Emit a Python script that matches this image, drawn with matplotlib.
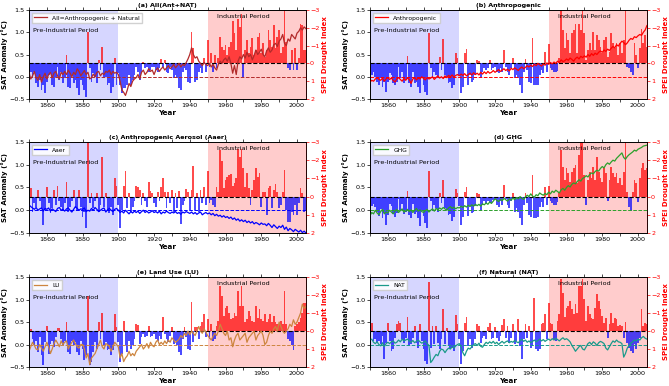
import numpy as np
import matplotlib
matplotlib.use('Agg')
import matplotlib.pyplot as plt
from matplotlib.ticker import MultipleLocator

years = np.arange(1850, 2006)

# (a) All (Ant+NAT)
spei_all = [
    1.27, 0.47, 0.75, 0.47, 1.12, 1.30, 0.93, 1.50, 1.20, 1.68,
    1.03, 0.65, 0.56, 1.20, 1.30, 0.75, 0.19, 0.93, 0.47, 1.12,
    0.84, -0.47, 1.30, 1.40, 0.65, 1.12, 0.93, 1.40, 1.77, 0.93,
    1.20, 1.50, 1.87, -1.77, 0.28, 1.03, 0.56, 0.75, 1.12, -0.20,
    0.37, -0.90, 0.84, 0.75, 1.20, 1.12, 1.68, 1.30, -0.28, 1.20,
    0.56, 1.20, 1.68, 1.40, 1.40, 1.20, 0.65, 1.20, 0.93, 0.65,
    0.19, 0.47, 0.93, 0.47, -0.10, 0.28, 0.19, 0.47, 0.37, 0.19,
    0.19, 0.37, 0.47, 0.28, -0.22, 0.19, -0.18, 0.47, 0.56, 0.19,
    0.37, 0.84, 0.65, 0.84, 1.40, 1.50, 0.47, 0.28, 0.37, 1.03,
    1.12, -1.77, -0.84, 1.03, 0.93, 0.47, 0.28, 0.56, -0.30, 0.47,
    -1.30, 0.19, -0.56, 0.47, -0.47, 0.28, -0.28, -1.50, -0.93, -0.75,
    -1.03, -0.47, -0.93, -1.21, -2.40, -1.68, -0.75, -2.50, -2.05, -2.80,
    0.75, -0.75, -1.30, -0.56, -0.93, -1.40, -0.47, -0.75, -1.50, -1.68,
    -0.56, -1.12, -0.37, -0.75, -1.87, -1.30, -0.93, -2.15, -0.84, -1.50,
    -1.87, -0.56, -0.93, -3.00, -1.21, 0.28, 0.37, -0.75, 0.37, -0.84,
    0.37, -0.28, -2.24, -2.15, -0.75, -0.75]
sat_all = [
    0.10, -0.05, 0.02, 0.12, -0.02, -0.08, 0.05, -0.12, 0.00, 0.08,
    -0.05, 0.05, 0.10, -0.02, 0.08, 0.12, 0.02, -0.05, 0.10, 0.05,
    0.12, 0.05, 0.15, 0.08, 0.00, 0.10, 0.05, 0.18, 0.12, 0.02,
    0.08, 0.14, 0.05, 0.10, -0.05, -0.02, 0.06, 0.00, 0.10, 0.12,
    0.02, 0.08, 0.05, 0.12, 0.10, 0.15, 0.05, 0.12, 0.08, 0.10,
    0.05, -0.10, -0.30, -0.35, -0.42, -0.30, -0.15, -0.22, -0.10, -0.05,
    -0.02, 0.05, -0.05, 0.10, 0.15, 0.05, 0.10, 0.18, 0.12, 0.15,
    0.05, 0.15, 0.20, 0.12, 0.18, 0.22, 0.15, 0.20, 0.25, 0.18,
    0.22, 0.28, 0.20, 0.25, 0.30, 0.22, 0.28, 0.25, 0.32, 0.40,
    0.50, 0.65, 0.50, 0.42, 0.45, 0.35, 0.30, 0.25, 0.32, 0.28,
    0.25, 0.30, 0.22, 0.28, 0.20, 0.15, 0.28, 0.35, 0.30, 0.38,
    0.42, 0.35, 0.45, 0.30, 0.08, 0.25, 0.05, 0.35, 0.45, 0.40,
    0.50, 0.42, 0.55, 0.45, 0.50, 0.38, 0.48, 0.60, 0.50, 0.55,
    0.62, 0.50, 0.45, 0.58, 0.65, 0.55, 0.60, 0.72, 0.75, 0.68,
    0.80, 0.85, 0.95, 0.75, 0.70, 0.85, 0.80, 0.95, 0.90, 0.85,
    0.98, 1.02, 1.10, 1.05, 1.12, 1.08]

# (b) Anthropogenic
spei_ant = [
    0.93, 0.65, 0.47, 0.75, 1.03, 1.21, 0.84, 1.31, 1.03, 1.59,
    1.03, 0.56, 0.65, 1.12, 1.21, 1.03, 0.19, 0.84, 0.47, 1.12,
    0.93, -0.41, 1.12, 1.31, 0.47, 1.12, 1.03, 1.31, 1.68, 0.84,
    1.21, 1.59, 1.77, -1.70, 0.28, 0.84, 0.47, 0.65, 0.84, -0.35,
    0.37, -1.35, 0.65, 0.75, 1.12, 1.03, 1.40, 1.21, -0.56, -0.28,
    0.65, 1.68, 1.31, -0.56, -0.80, 1.21, 0.65, 1.03, 0.93, 0.65,
    -0.19, -0.15, 0.84, 0.47, 0.28, 0.37, 0.28, -0.19, 0.37, 0.28,
    0.19, 0.47, 0.56, 0.28, 0.47, -0.75, 0.19, 0.47, 0.65, 0.28,
    -0.28, 0.84, 0.65, 0.84, 1.21, 1.68, 0.47, -0.22, 0.37, 1.03,
    1.12, -1.45, 1.21, 1.21, 1.21, 0.65, 0.37, 0.56, -0.65, 0.47,
    -1.10, 0.28, 0.37, 0.47, 0.47, 0.40, -0.30, -3.00, -1.87, -0.84,
    -1.68, -1.31, -0.56, -1.68, -1.87, -2.24, -0.56, -2.24, -1.87, -3.00,
    -1.68, -0.19, -0.75, -1.12, -0.75, -1.77, -0.75, -1.59, -1.31, -0.93,
    -0.56, -1.31, -1.49, -0.37, -0.65, -1.68, -1.12, -0.84, -1.12, -0.47,
    -1.12, -0.56, -1.31, -3.00, 0.19, 0.28, 0.47, 0.65, -1.12, -0.47,
    0.28, -0.84, -1.96, -1.12, -1.59, -0.93]
sat_ant = [
    -0.12, -0.08, -0.10, -0.05, -0.02, -0.06, -0.08, -0.03, -0.10, -0.05,
    -0.02, -0.06, -0.03, -0.08, -0.12, -0.05, -0.02, -0.06, -0.10, -0.04,
    -0.08, -0.03, -0.06, -0.15, -0.05, -0.02, -0.07, -0.03, -0.05, 0.00,
    -0.04, -0.07, -0.02, -0.05, -0.03, 0.00, -0.06, -0.02, 0.02, -0.03,
    0.00, -0.04, 0.02, -0.02, 0.03, 0.00, 0.04, -0.01, 0.03, 0.05,
    0.02, 0.06, 0.03, 0.07, 0.02, 0.05, 0.08, 0.04, 0.09, 0.05,
    0.08, 0.04, 0.10, 0.06, 0.11, 0.07, 0.12, 0.08, 0.10, 0.14,
    0.10, 0.13, 0.16, 0.12, 0.15, 0.18, 0.14, 0.17, 0.13, 0.19,
    0.16, 0.20, 0.17, 0.14, 0.19, 0.22, 0.18, 0.21, 0.25, 0.22,
    0.26, 0.23, 0.28, 0.25, 0.30, 0.27, 0.24, 0.29, 0.26, 0.31,
    0.28, 0.32, 0.29, 0.33, 0.30, 0.35, 0.32, 0.38, 0.34, 0.36,
    0.40, 0.37, 0.42, 0.39, 0.35, 0.41, 0.44, 0.40, 0.46, 0.43,
    0.47, 0.44, 0.50, 0.46, 0.52, 0.48, 0.53, 0.50, 0.55, 0.58,
    0.55, 0.60, 0.57, 0.62, 0.59, 0.64, 0.68, 0.65, 0.72, 0.69,
    0.75, 0.80, 0.77, 0.72, 0.76, 0.82, 0.86, 0.84, 0.90, 0.88,
    0.92, 0.95, 0.93, 1.00, 1.05, 1.15]

# (c) Anthropogenic Aerosol
spei_aer = [
    0.46, -0.46, 0.82, 0.37, 0.55, -0.37, 0.27, 0.64, 1.56, 0.73,
    -0.51, 0.37, 0.92, 0.64, -0.37, 0.46, -0.60, 0.27, 0.55, 0.73,
    0.37, -0.79, 0.82, 0.55, 0.27, -0.37, 0.64, 0.73, -0.37, 0.55,
    1.10, 0.82, 1.74, -3.00, 0.37, -0.18, 0.64, 0.27, -0.18, 0.82,
    0.46, -2.16, 0.55, -0.18, 0.73, 0.92, 0.55, 1.00, -1.00, -0.59,
    0.46, 1.70, 0.73, -0.60, -1.41, 0.64, -0.18, 0.82, 0.55, 0.27,
    -0.59, -0.51, -0.37, 0.46, -0.18, 0.27, 0.55, -0.82, -0.31, -0.18,
    0.37, 0.55, -0.27, 0.27, -0.55, -1.00, -0.27, 0.64, -0.27, 0.37,
    -0.37, 0.82, -0.18, 0.64, -0.33, 1.48, 0.46, 0.27, -0.42, -0.27,
    0.73, -0.37, -1.68, 0.73, -0.18, 0.82, -0.37, 0.37, -0.55, 0.46,
    -1.41, 0.37, 0.18, 0.46, 0.55, -0.55, -0.27, -2.55, -1.96, -0.49,
    -0.92, -1.10, -1.19, -1.23, -0.59, -0.73, -1.00, -2.62, -2.20, -2.62,
    -1.56, -0.55, -1.28, -0.46, 0.46, -0.37, -0.92, -1.56, -1.10, -1.28,
    0.55, -0.27, -0.27, 1.00, -0.46, -0.60, 0.64, -0.37, -0.68, -0.27,
    0.64, 0.46, -0.27, -1.47, 0.73, 1.37, 1.37, 0.82, 1.00, 0.46,
    1.00, 0.37, -0.46, -0.18, 0.82, 0.73]
sat_aer = [
    0.12, 0.08, 0.05, 0.02, 0.06, 0.00, 0.03, 0.05, -0.02, 0.04,
    0.02, 0.05, -0.02, 0.03, 0.00, -0.03, 0.04, 0.06, 0.00, 0.02,
    -0.02, 0.03, 0.05, 0.00, -0.04, 0.02, 0.08, 0.04, 0.00, 0.03,
    0.02, 0.05, -0.03, 0.00, -0.02, 0.04, 0.00, 0.06, 0.02, -0.03,
    0.00, 0.03, 0.05, -0.04, 0.01, 0.04, 0.00, -0.03, 0.02, 0.04,
    0.00, -0.05, -0.02, -0.06, 0.00, -0.04, -0.08, -0.03, -0.06, -0.02,
    -0.05, -0.02, -0.07, -0.03, 0.00, -0.05, -0.02, -0.06, -0.04, -0.01,
    -0.05, -0.03, -0.06, -0.02, -0.08, -0.04, -0.06, -0.02, -0.05, -0.07,
    -0.04, -0.06, -0.03, -0.07, -0.05, -0.09, -0.04, -0.06, -0.03, -0.05,
    -0.07, -0.04, -0.08, -0.05, -0.09, -0.06, -0.04, -0.10, -0.07, -0.05,
    -0.08, -0.06, -0.10, -0.07, -0.12, -0.09, -0.13, -0.11, -0.15, -0.12,
    -0.16, -0.14, -0.18, -0.15, -0.20, -0.17, -0.22, -0.19, -0.24, -0.21,
    -0.25, -0.22, -0.27, -0.24, -0.28, -0.25, -0.30, -0.27, -0.29, -0.32,
    -0.28, -0.31, -0.30, -0.34, -0.29, -0.33, -0.38, -0.32, -0.36, -0.40,
    -0.35, -0.38, -0.33, -0.42, -0.37, -0.45, -0.40, -0.43, -0.47, -0.42,
    -0.45, -0.48, -0.44, -0.49, -0.46, -0.50]

# (d) GHG
spei_ghg = [
    0.90, 0.50, 0.40, 0.55, 0.85, 1.05, 0.70, 1.15, 0.90, 1.55,
    1.00, 0.40, 0.50, 0.95, 1.10, 0.90, 0.15, 0.75, 0.40, 0.95,
    0.85, -0.28, 1.00, 1.20, 0.40, 0.95, 0.85, 1.15, 1.60, 0.80,
    1.05, 1.45, 1.70, -1.40, 0.25, 0.80, 0.45, 0.60, 0.85, -0.18,
    0.35, -0.92, 0.65, 0.75, 1.00, 0.95, 1.35, 1.10, -0.42, -0.18,
    0.50, 1.55, 1.10, -0.27, -0.55, 1.05, 0.50, 0.90, 0.85, 0.50,
    -0.18, -0.15, 0.80, 0.45, 0.25, 0.35, 0.25, 0.35, 0.35, 0.20,
    0.15, 0.45, 0.55, 0.25, 0.45, -0.64, 0.15, 0.45, 0.65, 0.25,
    -0.18, 0.85, 0.65, 0.85, 1.15, 1.55, 0.45, -0.22, 0.35, 1.00,
    1.10, -1.20, 1.15, 1.20, 1.10, 0.55, 0.30, 0.55, -0.55, 0.45,
    -0.60, 0.25, 0.35, 0.45, 0.45, 0.30, -0.25, -2.56, -1.65, -0.92,
    -1.56, -1.28, -0.82, -1.37, -1.56, -1.74, -0.73, -2.30, -3.00, -3.00,
    -1.19, 0.45, -0.92, -1.37, -1.00, -1.65, -0.92, -2.20, -1.37, -1.00,
    -0.82, -1.56, -1.28, 0.25, -0.92, -1.65, -1.28, -1.10, -1.28, -0.73,
    -1.00, -0.64, -1.37, -3.00, -0.27, 0.55, 0.80, -0.27, -0.92, -0.73,
    0.30, -1.00, -1.56, -1.83, -1.46, -1.56]
sat_ghg = [
    -0.12, -0.05, -0.08, 0.00, -0.06, -0.10, -0.03, 0.02, -0.08, -0.04,
    -0.06, 0.00, -0.04, -0.08, -0.02, 0.02, -0.05, -0.01, 0.03, -0.04,
    -0.02, 0.02, -0.03, 0.01, -0.05, 0.00, 0.04, -0.02, 0.01, -0.03,
    -0.05, -0.01, 0.02, -0.04, 0.00, 0.03, -0.02, 0.04, 0.01, 0.05,
    0.02, 0.06, 0.03, 0.00, 0.05, 0.08, 0.04, 0.07, 0.03, 0.06,
    0.05, 0.09, 0.06, 0.10, 0.07, 0.11, 0.08, 0.12, 0.09, 0.13,
    0.10, 0.13, 0.09, 0.14, 0.12, 0.16, 0.13, 0.18, 0.15, 0.20,
    0.25, 0.22, 0.19, 0.24, 0.21, 0.26, 0.23, 0.20, 0.25, 0.22,
    0.27, 0.23, 0.28, 0.25, 0.30, 0.26, 0.24, 0.29, 0.33, 0.30,
    0.36, 0.31, 0.29, 0.34, 0.32, 0.38, 0.35, 0.33, 0.37, 0.34,
    0.40, 0.36, 0.42, 0.39, 0.44, 0.41, 0.38, 0.45, 0.48, 0.44,
    0.50, 0.54, 0.51, 0.57, 0.60, 0.58, 0.63, 0.67, 0.64, 0.70,
    0.72, 0.76, 0.73, 0.79, 0.82, 0.80, 0.85, 0.88, 0.86, 0.92,
    0.96, 0.93, 1.00, 1.04, 1.01, 1.06, 1.10, 1.08, 1.14, 1.18,
    1.22, 1.26, 1.16, 1.12, 1.18, 1.22, 1.25, 1.28, 1.32, 1.30,
    1.34, 1.36, 1.38, 1.41, 1.42, 1.43]

# (e) Land Use
spei_lu = [
    1.17, -0.10, 0.44, 0.80, 0.53, 1.17, 0.35, 1.35, 1.90, 0.62,
    -0.30, 1.26, 0.71, 0.53, 0.90, 0.35, -0.15, -0.15, 0.44, 0.80,
    0.53, -0.51, 1.17, 1.26, 0.53, 0.80, 0.62, 1.17, 1.35, 0.53,
    0.99, 1.63, 1.35, -1.95, 1.90, 1.72, 1.17, 0.62, 0.99, -0.48,
    0.44, -1.03, 0.80, 0.62, 1.08, 0.99, 1.35, 1.08, -0.93, -0.20,
    0.62, 1.72, 1.26, -0.57, 0.80, 1.17, 0.53, 0.99, 0.80, 0.44,
    -0.38, -0.35, 0.71, 0.35, 0.16, 0.35, 0.26, -0.29, 0.35, 0.26,
    0.16, 0.44, 0.53, 0.26, 0.44, -0.80, 0.16, 0.44, 0.62, 0.26,
    -0.20, 0.71, 0.53, 0.80, 1.17, 1.35, 0.44, -0.25, 0.35, 0.99,
    1.08, -1.60, 0.62, -0.20, -0.20, 0.44, -0.30, -0.48, -0.93, 0.35,
    -0.66, 0.44, -0.38, 0.53, 0.44, -0.29, -0.57, -2.49, -1.93, -0.84,
    -1.30, -1.39, -1.03, -0.66, -0.75, -1.03, -0.84, -2.20, -1.39, -2.49,
    -1.39, -0.48, -0.66, -1.12, -0.84, -0.57, -0.48, -1.39, -0.75, -1.21,
    -0.66, -0.57, -0.93, -0.48, -0.66, -0.93, -0.48, -0.84, -0.48, -0.38,
    -0.38, -0.57, -0.38, -2.20, -0.38, 0.44, 0.53, 0.80, 1.08, -0.30,
    -0.38, -0.48, -0.75, -1.03, -1.58, -1.58]
sat_lu = [
    -0.15, -0.05, 0.05, -0.02, -0.10, -0.12, 0.00, -0.08, -0.15, -0.05,
    0.05, -0.05, -0.20, -0.10, 0.02, 0.10, 0.03, -0.05, 0.08, 0.00,
    0.05, 0.08, -0.10, -0.02, 0.05, 0.10, 0.02, -0.05, -0.08, 0.00,
    0.00, -0.10, -0.30, -0.20, -0.45, -0.30, -0.25, -0.20, -0.10, 0.00,
    0.10, -0.05, -0.10, 0.02, 0.00, -0.05, -0.15, -0.05, 0.05, 0.00,
    -0.05, -0.30, -0.20, -0.38, -0.30, -0.25, -0.15, -0.25, -0.20, -0.25,
    -0.15, -0.10, -0.05, 0.00, -0.10, -0.05, 0.02, -0.08, 0.05, -0.02,
    -0.05, 0.05, 0.10, 0.00, 0.05, 0.00, 0.08, 0.02, 0.10, 0.05,
    0.15, 0.10, 0.05, 0.08, 0.12, 0.20, 0.15, 0.25, 0.20, 0.30,
    0.22, 0.30, 0.25, 0.20, 0.30, 0.40, 0.30, 0.25, 0.35, 0.28,
    0.20, 0.15, 0.10, 0.18, 0.25, 0.20, 0.30, 0.45, 0.35, 0.25,
    0.20, 0.30, 0.10, 0.15, -0.05, 0.10, 0.20, 0.25, 0.10, 0.15,
    0.20, 0.25, 0.05, 0.15, 0.20, 0.25, 0.30, 0.10, 0.20, 0.25,
    0.30, 0.20, 0.00, 0.05, 0.20, 0.30, 0.25, 0.35, 0.40, 0.30,
    0.50, 0.40, 0.30, 0.25, 0.30, 0.35, 0.45, 0.40, 0.55, 0.45,
    0.50, 0.60, 0.70, 0.90, 0.80, 0.85]

# (f) Natural
spei_nat = [
    1.02, -0.46, 0.55, 0.46, 0.65, 0.55, 0.74, 0.28, 1.57, 0.65,
    -0.46, 0.55, 1.10, 1.02, 0.37, -0.37, -0.55, -0.46, 0.46, 0.65,
    0.37, -0.80, 0.83, 0.74, 0.37, -0.28, 0.65, 0.93, -0.37, 0.55,
    1.02, 1.67, 1.85, -2.70, 0.93, -0.28, 0.74, -0.28, 0.65, 1.02,
    0.46, -1.24, 0.74, -0.18, 0.83, 1.02, 0.93, 1.10, -0.87, -0.37,
    0.46, 1.85, 1.10, -0.46, -0.78, 0.83, 0.46, 0.93, 0.74, 0.46,
    -0.37, -0.28, 0.65, 0.37, 0.28, 0.46, -0.20, -0.46, 0.46, 0.37,
    -0.20, 0.37, 0.55, 0.28, -0.31, -0.65, 0.37, -0.28, 0.65, 0.37,
    -0.37, 0.74, 0.55, -0.65, 0.83, 1.57, 0.46, -0.37, 0.37, -0.28,
    0.93, 0.83, -1.85, 1.02, 1.10, 1.02, -0.37, -0.46, -0.93, 0.46,
    -1.54, -0.46, -0.37, 0.46, 0.55, -0.55, -0.93, -2.90, -2.10, -0.78,
    -1.30, -1.39, -1.67, -1.20, -0.93, -1.48, -1.02, -2.50, -2.50, -2.87,
    -1.76, -0.55, -1.39, -0.93, -0.74, -0.65, -1.30, -2.04, -1.67, -1.20,
    -0.83, -0.46, -0.74, 0.37, -0.37, -1.02, -0.46, -0.74, -0.65, -0.28,
    -0.31, -0.28, 0.37, -0.50, 0.65, 0.93, 1.10, 1.20, 0.74, 1.02,
    0.65, 0.37, -1.24, -0.28, -0.46, -0.37]
sat_nat = [
    0.10, 0.12, 0.05, 0.02, 0.06, 0.00, -0.03, 0.04, -0.05, 0.02,
    0.05, 0.02, 0.06, 0.08, 0.03, 0.05, 0.10, 0.06, 0.12, 0.08,
    0.10, 0.12, 0.08, 0.05, 0.09, 0.04, 0.07, 0.10, 0.06, 0.03,
    0.05, 0.08, 0.02, -0.02, -0.40, -0.35, -0.28, -0.22, -0.25, -0.15,
    -0.10, -0.12, -0.18, -0.12, -0.08, -0.10, -0.05, -0.08, -0.03, 0.00,
    0.02, -0.05, -0.18, -0.25, -0.15, -0.08, -0.10, -0.05, 0.00, 0.02,
    -0.02, 0.03, -0.04, -0.06, 0.00, 0.05, 0.02, 0.06, 0.03, 0.07,
    0.02, 0.05, 0.00, 0.04, 0.07, 0.03, 0.06, 0.08, 0.04, 0.07,
    0.05, 0.09, 0.06, 0.04, 0.08, 0.12, 0.07, 0.10, 0.05, 0.08,
    0.04, 0.07, 0.10, 0.06, 0.09, 0.12, 0.08, 0.11, 0.07, 0.10,
    0.12, 0.09, 0.13, 0.10, 0.14, 0.11, 0.08, 0.12, 0.15, 0.11,
    0.13, 0.10, 0.06, -0.02, -0.08, -0.15, -0.10, -0.05, -0.02, -0.10,
    -0.12, -0.05, 0.02, 0.05, 0.00, 0.06, 0.03, -0.02, 0.04, 0.07,
    0.05, 0.02, -0.08, -0.12, -0.05, 0.02, 0.08, 0.05, 0.10, 0.06,
    0.05, 0.02, -0.28, -0.20, -0.08, -0.02, 0.03, 0.06, 0.10, 0.08,
    0.12, 0.10, 0.15, 0.18, 0.14, 0.12]

titles = ['(a) All(Ant+NAT)', '(b) Anthropogenic', '(c) Anthropogenic Aerosol (Aaer)',
          '(d) GHG', '(e) Land Use (LU)', '(f) Natural (NAT)']
labels = ['All=Anthropogenic + Natural', 'Anthropogenic', 'Aaer', 'GHG', 'LU', 'NAT']
line_colors = ['#b22a2a', 'red', 'blue', '#2ca02c', 'peru', '#1a9a8a']
spei_series = [spei_all, spei_ant, spei_aer, spei_ghg, spei_lu, spei_nat]
sat_series = [sat_all, sat_ant, sat_aer, sat_ghg, sat_lu, sat_nat]

fs = 4.6
fig = plt.figure(figsize=(6.69, 3.86), dpi=100)

lefts = [0.0433, 0.553]
bottoms = [0.7435, 0.3964, 0.0492]
heights = [0.2306, 0.2358, 0.233]

for k in range(6):
    row, col = k // 2, k % 2
    ax = fig.add_axes([lefts[col], bottoms[row], 0.414, heights[row]])
    ax2 = ax.twinx()
    ax.set_zorder(ax2.get_zorder() + 1)
    ax.patch.set_visible(False)

    # shaded periods and SPEI bars on the right axis
    ax2.axvspan(1850, 1900, color='blue', alpha=0.16, lw=0, zorder=0)
    ax2.axvspan(1950, 2005, color='red', alpha=0.2, lw=0, zorder=0)
    spei = np.array(spei_series[k])
    cols = ['red' if v < 0 else 'blue' for v in spei]
    ax2.bar(years, spei, width=1.0, color=cols, alpha=0.7, lw=0, zorder=2)
    ax2.axhline(0, color='black', ls='--', lw=0.8, zorder=3)
    ax2.set_ylim(2, -3)
    ax2.set_yticks([-3, -2, -1, 0, 1, 2])
    ax2.set_yticklabels(['\u22123', '\u22122', '\u22121', '0', '1', '2'])
    ax2.tick_params(axis='y', colors='red', labelsize=fs, length=2, width=0.5, pad=1)
    ax2.spines['right'].set_color('red')
    ax2.set_ylabel('SPEI Drought Index', color='red', fontsize=fs + 0.4,
                   fontweight='bold', labelpad=2)

    # SAT line on the left axis
    ax.plot(years, sat_series[k], color=line_colors[k], lw=0.9, label=labels[k])
    ax.axhline(0, color=line_colors[k], ls='--', lw=0.7)
    ax.set_xlim(1850, 2005)
    ax.set_ylim(-0.5, 1.5)
    ax.set_yticks([-0.5, 0.0, 0.5, 1.0, 1.5])
    ax.xaxis.set_major_locator(MultipleLocator(20))
    ax.xaxis.set_minor_locator(MultipleLocator(10))
    ax.tick_params(axis='both', which='both', labelsize=fs, length=2, width=0.5, pad=1)
    ax.tick_params(axis='x', which='both', top=True)
    ax.set_ylabel('SAT Anomaly (\u00b0C)', fontsize=fs + 0.4, fontweight='bold', labelpad=1)
    ax.set_xlabel('Year', fontsize=fs + 0.6, fontweight='bold', labelpad=1)
    ax.set_title(titles[k], fontsize=fs, fontweight='bold', pad=2)
    ax.text(1852, 1.05, 'Pre-Industrial Period', fontsize=fs, va='center')
    ax.text(1955, 1.35, 'Industrial Period', fontsize=fs, va='center')
    ax.legend(loc='upper left', fontsize=fs - 0.3, handlelength=2.2, borderpad=0.4,
              framealpha=0.9, edgecolor='#cccccc', fancybox=False)
    for sp in ax.spines.values():
        sp.set_linewidth(0.6)
    for sp in ax2.spines.values():
        sp.set_linewidth(0.6)
    ax2.spines['right'].set_color('red')

fig.savefig('out.png', dpi=100)
